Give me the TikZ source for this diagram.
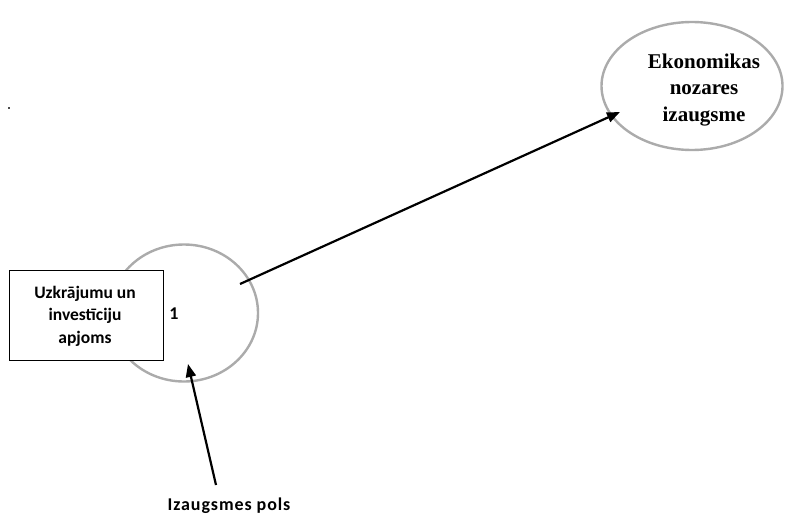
\documentclass[tikz,border=0pt]{standalone}
\usepackage{fontspec}
\setmainfont{Liberation Serif}
\newfontfamily\labelfont{Carlito}
\usetikzlibrary{shapes.geometric,arrows.meta}
\begin{document}
\begin{tikzpicture}[x=1pt,y=-1pt]
  \tikzset{
    circ/.style={ellipse, draw=black!33, line width=2.4pt, inner sep=0pt},
    labelbox/.style={draw=black, line width=1pt, fill=white, inner sep=0pt},
    sanslabel/.style={font=\labelfont\bfseries\fontsize{17.5}{22.5}\selectfont, align=center},
    link/.style={line width=2.2pt, -{Triangle[length=13pt,width=10pt]}}
  }
  \useasboundingbox (0,0) rectangle (802,514);

  % growth pole and sector growth
  \node[circ, minimum width=148pt, minimum height=137pt] (pole) at (184,313) {};
  \node[circ, minimum width=181pt, minimum height=128pt] (growth) at (692,86) {};
  \node[font=\bfseries\fontsize{21}{26.5}\selectfont, align=center] (growthtxt) at (704,90)
    {Ekonomikas\\nozares\\izaugsme};

  % savings and investment box
  \node[labelbox, minimum width=154pt, minimum height=90pt] (box) at (86,315) {};
  \node[sanslabel] (boxtxt) at (85,316) {Uzkrājumu un\\investīciju\\apjoms};
  \node[font=\labelfont\bfseries\fontsize{18}{20}\selectfont] (one) at (174,314) {1};

  % pole label
  \node[sanslabel, font=\labelfont\bfseries\fontsize{18}{22}\selectfont\addfontfeature{LetterSpace=5}]
    (polelabel) at (229,506) {Izaugsmes pols};

  % connectors
  \coordinate (s1) at (240,284);
  \coordinate (t1) at (620,112);
  \coordinate (s2) at (216,485);
  \coordinate (t2) at (188,364);
  \draw[link] (s1) -- (t1);
  \draw[link] (s2) -- (t2);

  % small speck
  \fill[black!70] (8.2,107.4) rectangle (9.6,108.8);
\end{tikzpicture}
\end{document}
